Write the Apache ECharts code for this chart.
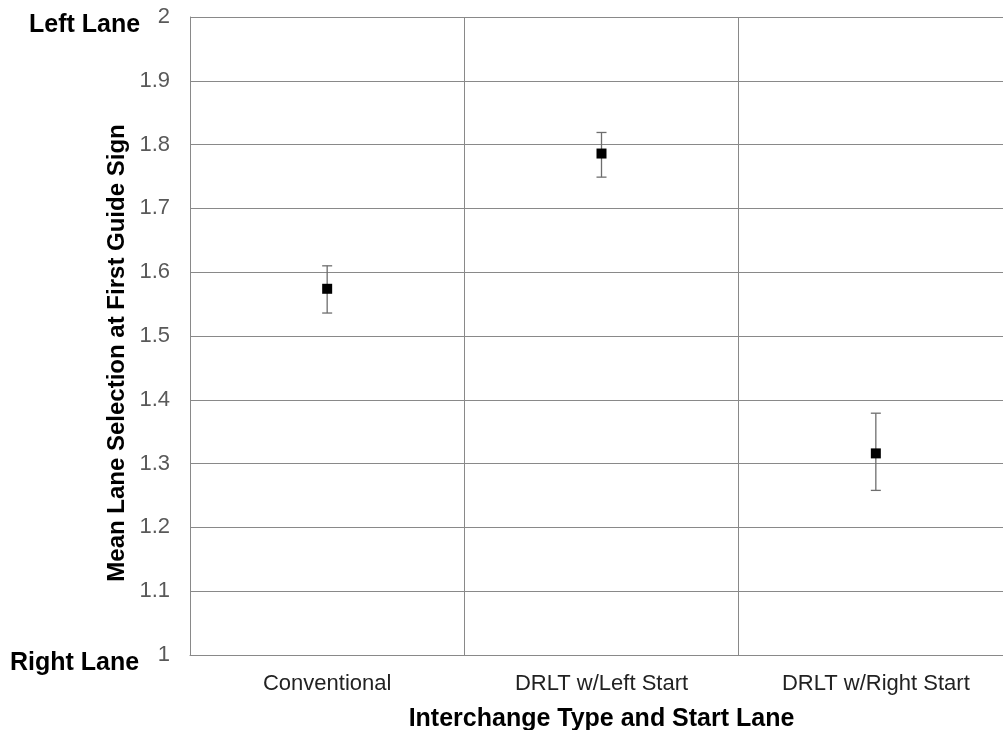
<!DOCTYPE html>
<html>
<head>
<meta charset="utf-8">
<script src="https://cdn.jsdelivr.net/npm/echarts@6/dist/echarts.min.js"></script>
<style>html,body{margin:0;padding:0;background:#fff}#c{width:1003px;height:730px}</style>
</head>
<body>
<div id="c"></div>
<script>
var categories = ['Conventional', 'DRLT w/Left Start', 'DRLT w/Right Start'];
var means = [1.574, 1.786, 1.316];
var upper = [1.610, 1.819, 1.379];
var lower = [1.536, 1.749, 1.258];
var yTicks = { min: 1, max: 2, interval: 0.1 };

var chart = echarts.init(document.getElementById('c'));
var FONT = '"Liberation Sans", Arial, sans-serif';
var errData = categories.map(function (c, i) { return [i, lower[i], upper[i]]; });

chart.setOption({
  animation: false,
  textStyle: { fontFamily: FONT },
  grid: { left: 190, top: 17, width: 823, height: 638, outerBoundsMode: 'none', containLabel: false },
  xAxis: {
    type: 'category',
    data: categories,
    boundaryGap: true,
    axisLine: { show: true, lineStyle: { color: '#898989', width: 1 } },
    axisTick: { show: false },
    splitLine: { show: true, interval: 0, lineStyle: { color: '#898989', width: 1 } },
    axisLabel: { interval: 0, color: '#222', fontSize: 22, margin: 18, fontFamily: FONT },
    name: 'Interchange Type and Start Lane',
    nameLocation: 'middle',
    nameGap: 52,
    nameTextStyle: { color: '#000', fontSize: 25, fontWeight: 'bold', fontFamily: FONT }
  },
  yAxis: {
    type: 'value',
    min: yTicks.min, max: yTicks.max, interval: yTicks.interval,
    axisLine: { show: true, lineStyle: { color: '#898989', width: 1 } },
    axisTick: { show: false },
    splitLine: { show: true, lineStyle: { color: '#898989', width: 1 } },
    axisLabel: {
      color: '#595959', fontSize: 22, margin: 20, fontFamily: FONT,
      formatter: function (v) { return String(Math.round(v * 10) / 10); }
    }
  },
  graphic: [
    { type: 'text', left: 29, top: 13, style: { text: 'Left Lane', fill: '#000', font: 'bold 25px ' + FONT } },
    { type: 'text', left: 10, top: 651, style: { text: 'Right Lane', fill: '#000', font: 'bold 25px ' + FONT } },
    { type: 'text', x: 117, y: 353, rotation: Math.PI / 2,
      style: { text: 'Mean Lane Selection at First Guide Sign', fill: '#000', font: 'bold 24px ' + FONT,
               textAlign: 'center', textVerticalAlign: 'middle' } }
  ],
  series: [
    {
      type: 'custom',
      data: errData,
      z: 3,
      renderItem: function (params, api) {
        var lo = api.coord([api.value(0), api.value(1)]);
        var hi = api.coord([api.value(0), api.value(2)]);
        var hw = 5;
        var st = { stroke: '#6e6e6e', lineWidth: 1.3 };
        return {
          type: 'group',
          children: [
            { type: 'line', shape: { x1: hi[0], y1: hi[1], x2: lo[0], y2: lo[1] }, style: st },
            { type: 'line', shape: { x1: hi[0] - hw, y1: hi[1], x2: hi[0] + hw, y2: hi[1] }, style: st },
            { type: 'line', shape: { x1: lo[0] - hw, y1: lo[1], x2: lo[0] + hw, y2: lo[1] }, style: st }
          ]
        };
      }
    },
    {
      type: 'scatter',
      data: means,
      symbol: 'rect',
      symbolSize: 10,
      z: 4,
      itemStyle: { color: '#000', opacity: 1 }
    }
  ]
});
</script>
</body>
</html>
